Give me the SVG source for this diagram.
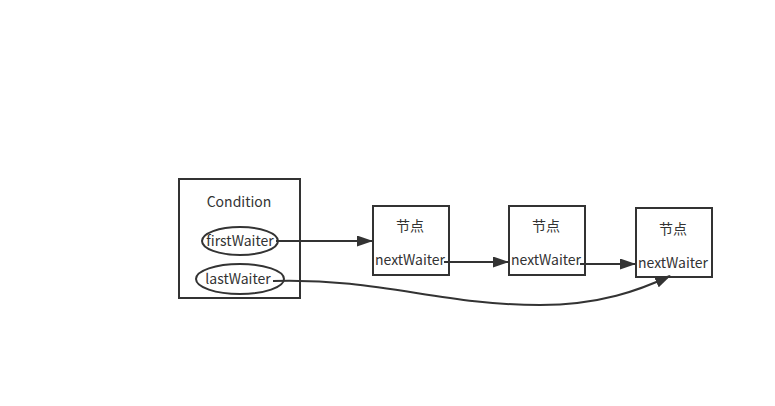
<svg xmlns="http://www.w3.org/2000/svg" width="775" height="406" viewBox="0 0 775 406">
  <style>
    .box { fill: #ffffff; stroke: #333333; stroke-width: 2; }
    .oval { fill: #ffffff; stroke: #333333; stroke-width: 2; }
    .lbl { font-family: "Noto Sans CJK SC", "Noto Sans", sans-serif; font-size: 14px; fill: #333333; text-anchor: middle; }
    .edge { fill: none; stroke: #333333; stroke-width: 2; }
  </style>
  <defs>
    <marker id="arrow" viewBox="0 0 16 11" refX="15" refY="5.5" markerWidth="16" markerHeight="11" markerUnits="userSpaceOnUse" orient="auto">
      <path d="M0,0 L16,5.5 L0,11 z" fill="#333333"/>
    </marker>
  </defs>
  <rect width="775" height="406" fill="#ffffff"/>

  <g id="condition">
    <rect class="box" x="179" y="179" width="121" height="119"/>
    <text class="lbl" x="239" y="207">Condition</text>
    <ellipse class="oval" cx="240" cy="241" rx="38" ry="14"/>
    <text class="lbl" x="240" y="246">firstWaiter</text>
    <ellipse class="oval" cx="240" cy="279" rx="44" ry="15"/>
    <text class="lbl" x="238" y="284">lastWaiter</text>
  </g>

  <g id="node1">
    <rect class="box" x="373" y="206" width="76" height="69"/>
    <text class="lbl" x="410" y="231">节点</text>
    <text class="lbl" x="410" y="265">nextWaiter</text>
  </g>

  <g id="node2">
    <rect class="box" x="509" y="206" width="76" height="69"/>
    <text class="lbl" x="546" y="231">节点</text>
    <text class="lbl" x="546" y="265">nextWaiter</text>
  </g>

  <g id="node3">
    <rect class="box" x="636" y="208" width="76" height="69"/>
    <text class="lbl" x="673" y="234">节点</text>
    <text class="lbl" x="673" y="268">nextWaiter</text>
  </g>

  <g id="connectors">
    <path class="edge" d="M276,241 L372,241" marker-end="url(#arrow)"/>
    <path class="edge" d="M444,262 L508,262" marker-end="url(#arrow)"/>
    <path class="edge" d="M580,264 L635,264" marker-end="url(#arrow)"/>
    <path class="edge" d="M273,281 C380,278 440,305 540,305 C600,305 640,290 670,276" marker-end="url(#arrow)"/>
  </g>
</svg>
